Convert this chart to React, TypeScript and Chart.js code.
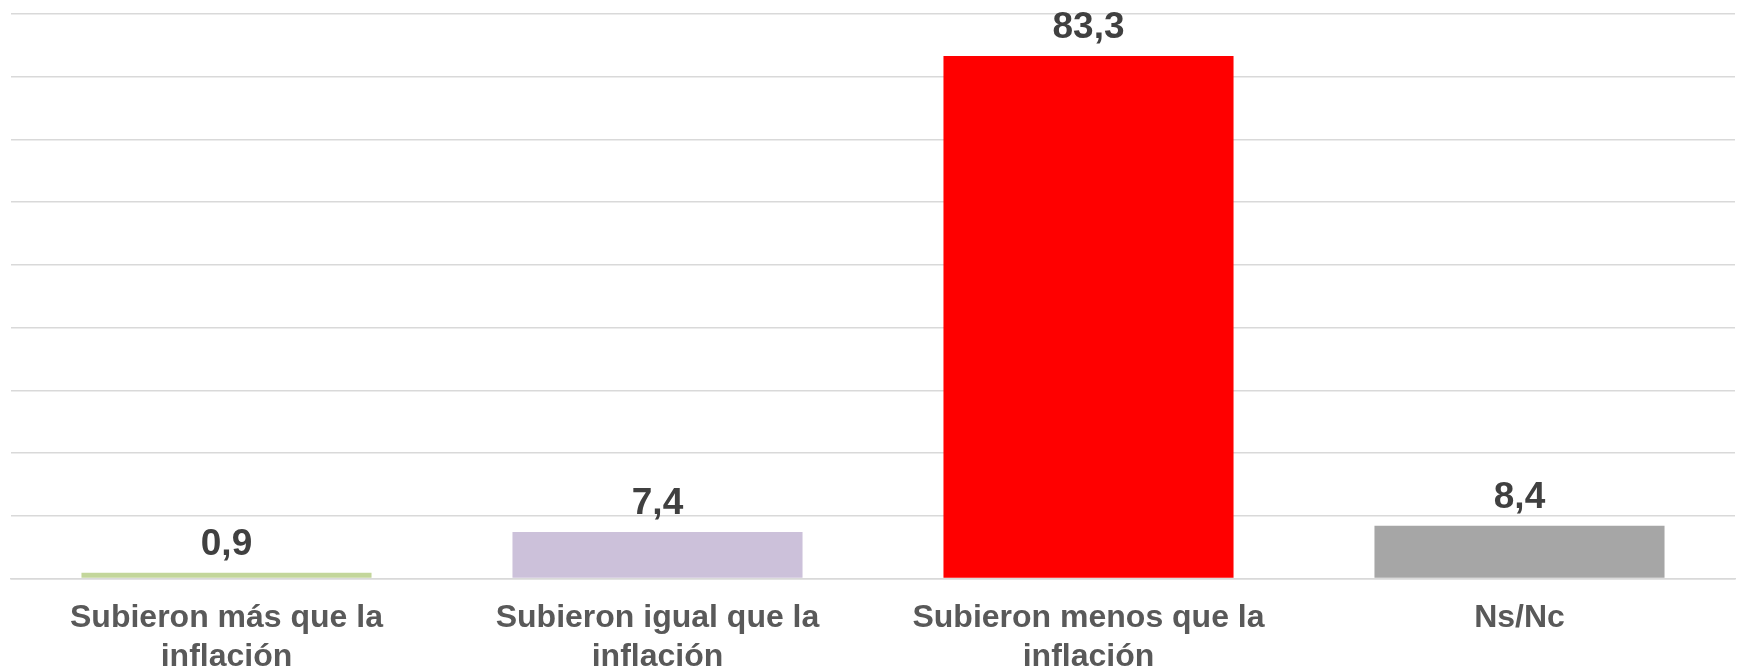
import React, { useEffect, useRef } from "react";
import { Chart, registerables } from "chart.js";

Chart.register(...registerables);

const categories: string[][] = [
  ["Subieron más que la", "inflación"],
  ["Subieron igual que la", "inflación"],
  ["Subieron menos que la", "inflación"],
  ["Ns/Nc"],
];
const values: number[] = [0.9, 7.4, 83.3, 8.4];
const barColors: string[] = ["#c3d69b", "#ccc1da", "#ff0000", "#a6a6a6"];
const yMin = 0;
const yMax = 90;
const yStep = 10;

const FONT = "'Liberation Sans', Arial, sans-serif";

const valueLabels = {
  id: "valueLabels",
  afterDatasetsDraw(chart: any) {
    const ctx = chart.ctx;
    const meta = chart.getDatasetMeta(0);
    ctx.save();
    ctx.font = `bold 37px ${FONT}`;
    ctx.fillStyle = "#404040";
    ctx.textAlign = "center";
    ctx.textBaseline = "alphabetic";
    meta.data.forEach((bar: any, i: number) => {
      const txt = values[i].toFixed(1).replace(".", ",");
      ctx.fillText(txt, bar.x, bar.y - 18);
    });
    ctx.restore();
  },
};

export default function App() {
  const ref = useRef<HTMLCanvasElement>(null);
  useEffect(() => {
    document.body.style.margin = "0";
    const chart = new Chart(ref.current!, {
      type: "bar",
      data: {
        labels: categories,
        datasets: [
          {
            data: values,
            backgroundColor: barColors,
            borderWidth: 0,
            categoryPercentage: 1,
            barPercentage: 0.673,
          },
        ],
      },
      options: {
        animation: false,
        responsive: false,
        maintainAspectRatio: false,
        layout: { padding: { left: 11, right: 4, top: 14, bottom: 0 } },
        plugins: {
          legend: { display: false },
          tooltip: { enabled: false },
        },
        scales: {
          x: {
            afterFit: (s: any) => {
              s.height = 92.5;
            },
            grid: { display: false, drawTicks: false },
            border: { display: true, color: "#d9d9d9", width: 1.5 },
            ticks: {
              color: "#595959",
              font: { family: FONT, size: 32, weight: "bold", lineHeight: 1.22 },
              padding: 20,
              maxRotation: 0,
              autoSkip: false,
            },
          },
          y: {
            min: yMin,
            max: yMax,
            afterFit: (s: any) => {
              s.width = 0;
            },
            ticks: { display: false, stepSize: yStep },
            grid: { color: "#d9d9d9", lineWidth: 1.5, drawTicks: false },
            border: { display: false },
          },
        },
      },
      plugins: [valueLabels],
    });
    return () => chart.destroy();
  }, []);
  return (
    <div style={{ width: 1739, height: 671, background: "#fff" }}>
      <canvas ref={ref} width={1739} height={671} />
    </div>
  );
}
